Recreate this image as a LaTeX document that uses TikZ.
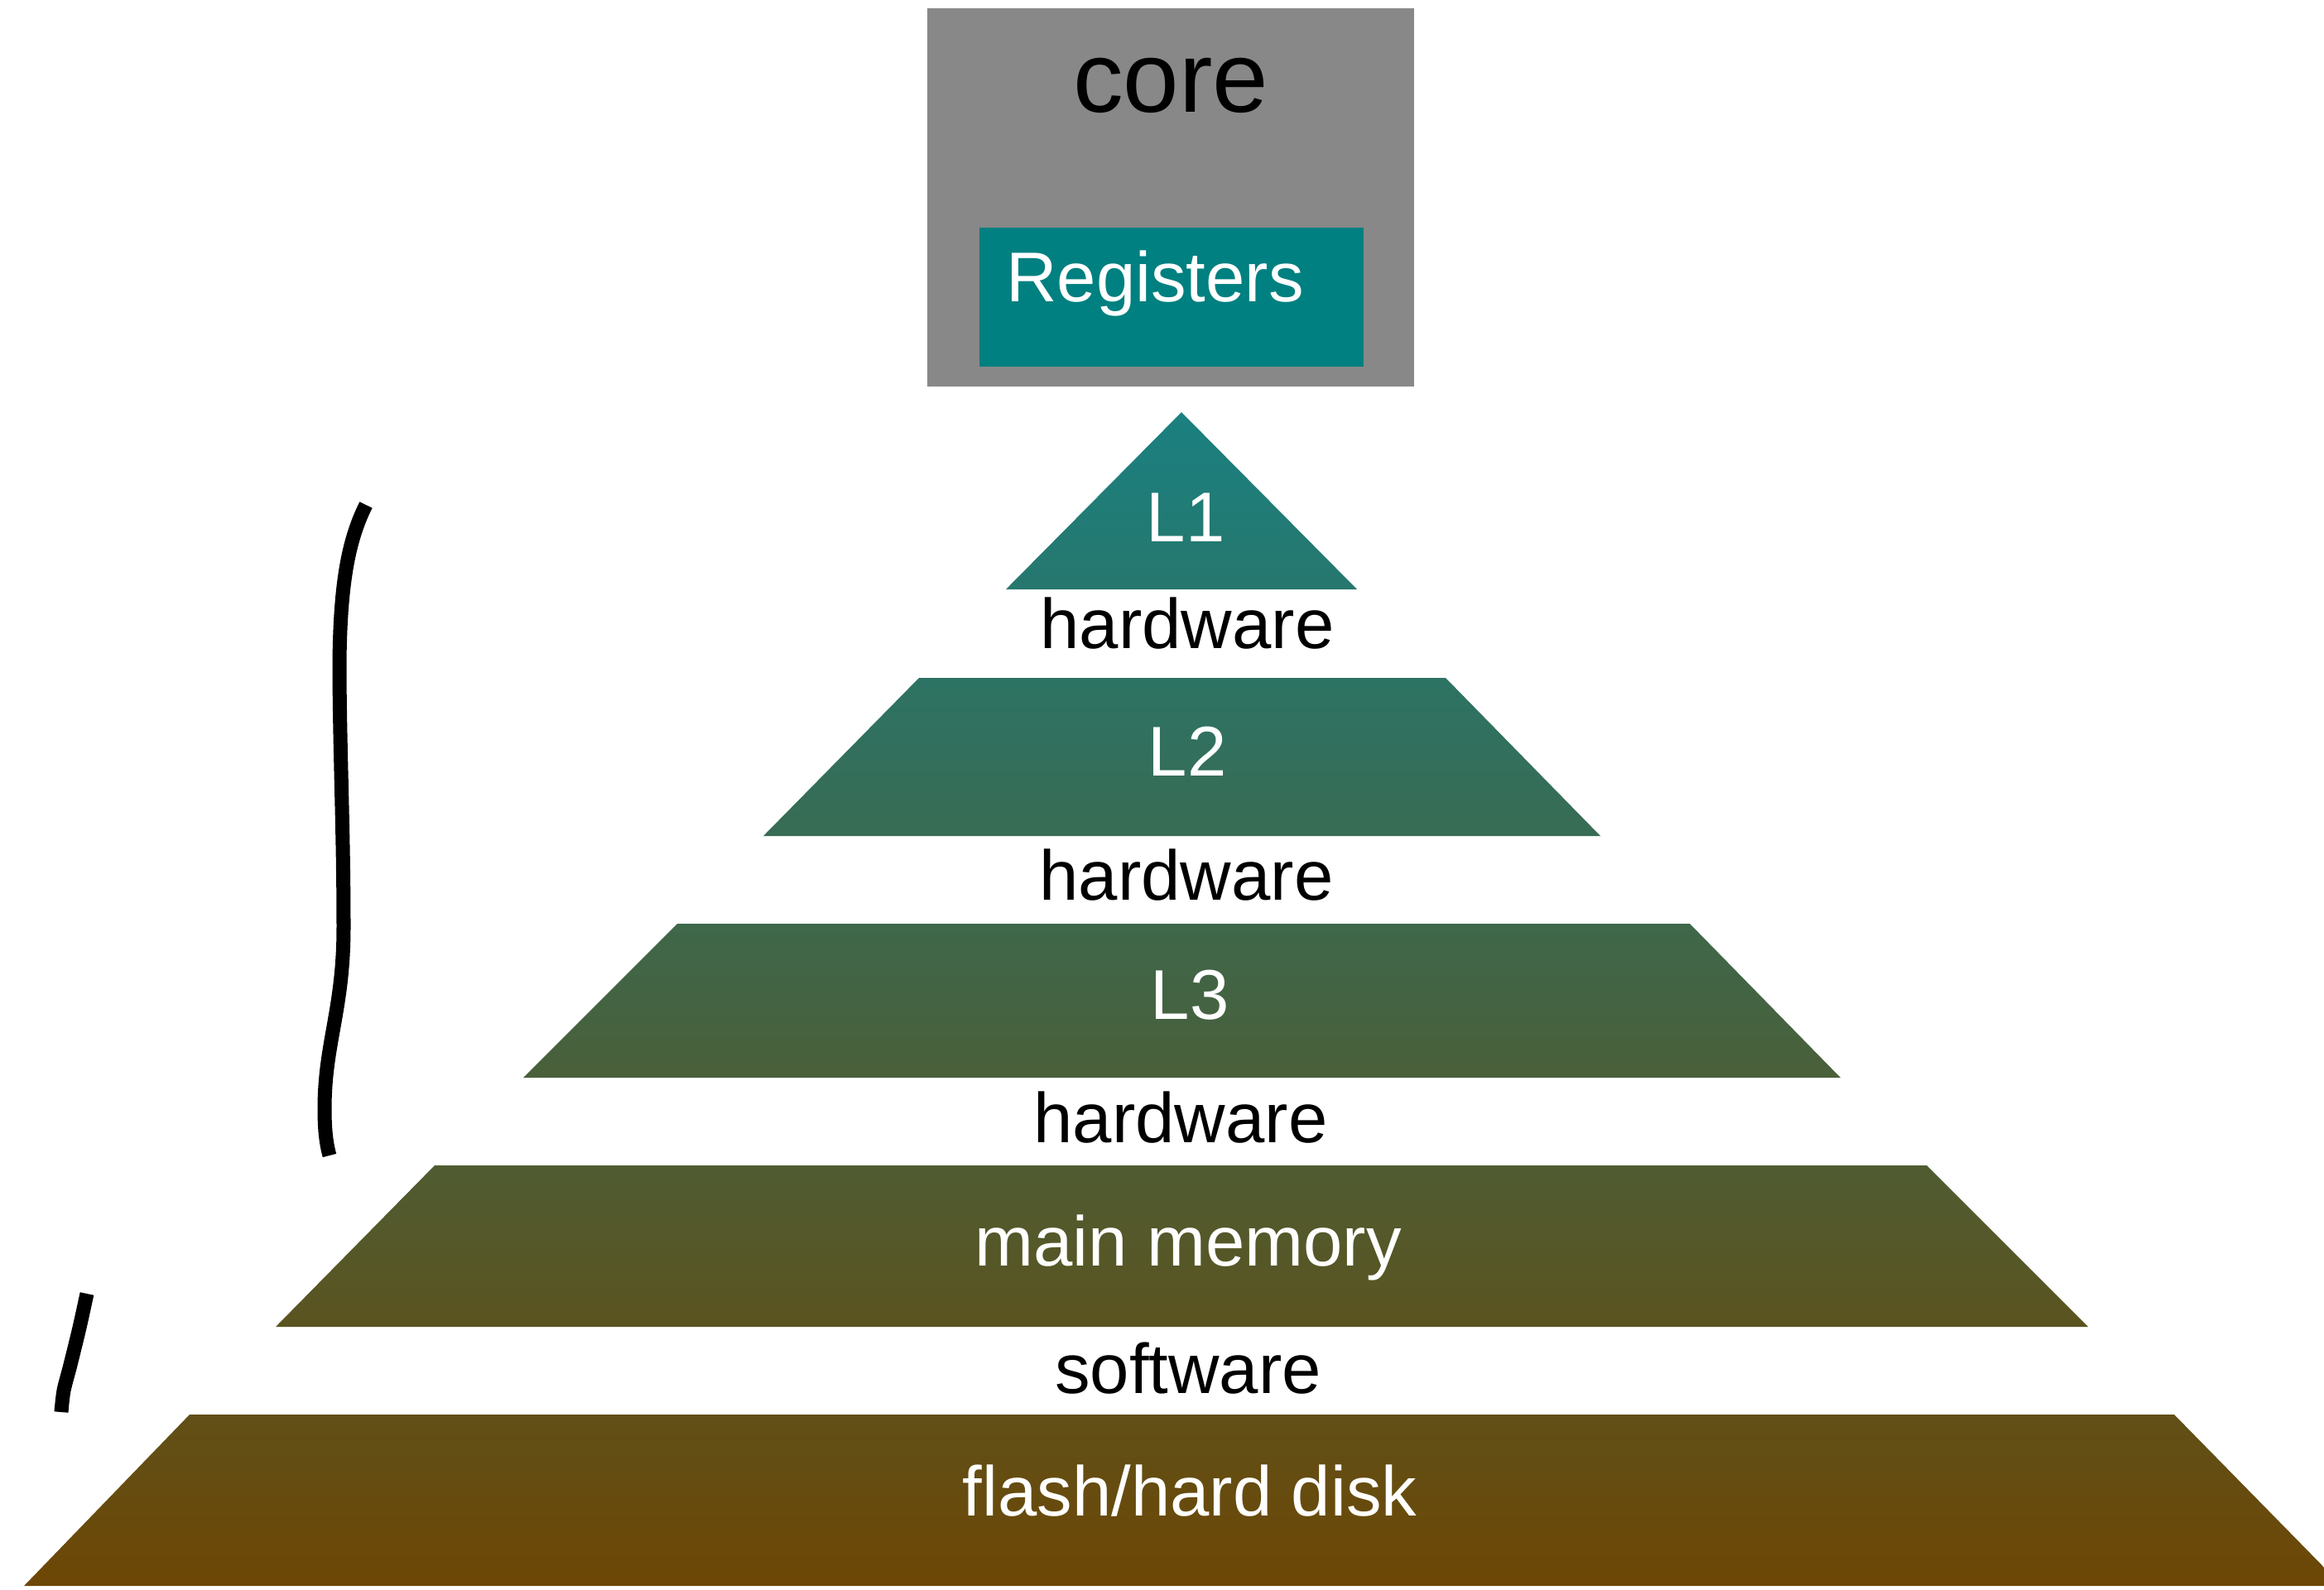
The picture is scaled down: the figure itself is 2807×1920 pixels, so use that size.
\documentclass[tikz,border=0pt]{standalone}
\usepackage{fontspec}
\setmainfont{Liberation Sans}
\definecolor{gtop}{RGB}{26,128,128}
\definecolor{gbot}{RGB}{109,71,5}
\definecolor{corebg}{RGB}{136,136,136}
\definecolor{regbg}{RGB}{0,128,128}
\begin{document}
\begin{tikzpicture}[x=0.01cm,y=-0.01cm,
  lbl/.style={inner sep=0pt, anchor=base, font=\fontsize{24.2}{29}\selectfont},
  wlbl/.style={lbl, text=white},
  ink/.style={line width=0.17cm, black, line join=round}]
\useasboundingbox (0,0) rectangle (2807,1920);
\fill[white] (0,0) rectangle (2807,1920);
% core box
\fill[corebg] (1120,10) rectangle (1708,467);
\fill[regbg] (1183,275) rectangle (1647,443);
\node[lbl, font=\fontsize{34.5}{40}\selectfont] (core) at (1414,135) {core};
\node[wlbl] (reg) at (1395,364) {Registers};
% pyramid levels
\begin{scope}
\clip (0,0) rectangle (2807,1920);
\shade[top color=gtop, bottom color=gtop!85!gbot] (1427,498) -- (1639,712) -- (1215,712) -- cycle;
\shade[top color=gtop!77!gbot, bottom color=gtop!64!gbot] (1110,819) -- (1746,819) -- (1933,1010) -- (922,1010) -- cycle;
\shade[top color=gtop!56!gbot, bottom color=gtop!43!gbot] (818,1116) -- (2041,1116) -- (2223,1302) -- (632,1302) -- cycle;
\shade[top color=gtop!36!gbot, bottom color=gtop!22!gbot] (525,1408) -- (2327,1408) -- (2522,1603) -- (333,1603) -- cycle;
\shade[top color=gtop!15!gbot, bottom color=gbot] (229,1709) -- (2626,1709) -- (2829,1916) -- (29,1916) -- cycle;
\end{scope}
% labels
\node[wlbl] (l1) at (1432,654) {L1};
\node[lbl] (hw1) at (1434,783) {hardware};
\node[wlbl] (l2) at (1434,937) {L2};
\node[lbl] (hw2) at (1433,1087) {hardware};
\node[wlbl] (l3) at (1437,1231) {L3};
\node[lbl] (hw3) at (1426,1380) {hardware};
\node[wlbl] (mm) at (1435,1529) {main memory};
\node[lbl] (sw) at (1435,1683) {software};
\node[wlbl] (fd) at (1437,1831) {flash/hard disk};
% hand-drawn marks
\draw[ink] (442,610) .. controls (422,650) and (411,700) .. (410,800)
  .. controls (410,900) and (415,1000) .. (415,1120)
  .. controls (415,1220) and (392,1260) .. (392,1340)
  .. controls (392,1370) and (395,1385) .. (398,1396);
\draw[ink] plot[smooth] coordinates {(105,1563) (96,1604) (85,1649) (77,1680) (74,1706)};
\end{tikzpicture}
\end{document}
